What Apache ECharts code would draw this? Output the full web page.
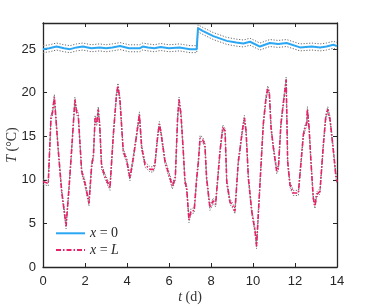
<!DOCTYPE html>
<html><head><meta charset="utf-8">
<script src="https://cdn.jsdelivr.net/npm/echarts@6/dist/echarts.min.js"></script>
<style>html,body{margin:0;padding:0;background:#fff}#c{width:374px;height:308px}</style>
</head><body><div id="c"></div>
<script>
// t (days) and temperature at x = L
const tL = [0,0.25,0.38,0.45,0.54,0.73,0.89,1.1,1.25,1.36,1.52,1.6,1.68,1.84,2.0,2.19,2.32,2.4,2.48,2.56,2.63,2.7,2.79,2.95,3.19,3.35,3.5,3.57,3.67,3.82,3.98,4.14,4.3,4.46,4.59,4.7,4.86,5.1,5.25,5.33,5.46,5.54,5.62,5.81,6.05,6.16,6.3,6.41,6.48,6.57,6.68,6.76,6.84,6.95,7.05,7.2,7.32,7.4,7.48,7.6,7.71,7.79,7.95,8.1,8.22,8.43,8.56,8.67,8.75,8.9,9.02,9.14,9.3,9.37,9.49,9.59,9.67,9.78,9.94,10.1,10.17,10.33,10.49,10.62,10.7,10.78,10.86,10.97,11.13,11.21,11.33,11.44,11.58,11.65,11.76,11.92,12.16,12.24,12.4,12.48,12.56,12.59,12.67,12.76,12.87,12.95,13.03,13.19,13.35,13.46,13.56,13.67,13.83,13.94,14.0];
const TL = [9.8,9.6,17.1,17.7,19.5,13.3,8.7,4.7,9.45,13.3,19.2,17.8,17.4,11.0,9.6,7.3,11.75,12.7,17.1,16.5,18.1,16.3,11.55,10.4,9.1,15.2,19.8,20.8,19.0,13.3,12.3,10.2,12.5,15.2,17.5,13.7,11.75,11.2,11.2,11.75,15.0,16.4,15.4,12.1,10.2,9.25,10.2,17.1,19.2,17.5,13.3,9.8,9.1,5.4,6.4,6.5,10.2,12.1,14.8,14.6,14.0,10.2,6.8,7.6,7.2,13.3,16.0,15.6,9.8,7.5,7.1,6.4,12.1,13.3,15.6,17.1,15.6,10.2,6.4,4.1,2.4,9.45,16.4,19.4,20.5,19.9,16.0,13.7,11.0,11.4,16.4,18.7,21.5,12.1,9.45,8.5,8.5,8.7,15.2,16.0,16.5,18.1,16.0,12.1,7.9,7.0,8.3,8.7,14.0,17.1,18.1,16.9,13.3,10.6,9.8];
// t (days) and temperature at x = 0
const t0 = [0,0.3,0.65,1.0,1.29,1.6,1.9,2.3,2.7,3.0,3.3,3.67,4.1,4.6,4.75,5.0,5.3,5.6,6.0,6.5,7.0,7.32,7.38,7.6,8.11,8.75,9.2,9.54,9.86,10.33,10.8,11.2,11.6,12.24,12.8,13.2,13.5,13.83,14.0];
const T0 = [25.0,25.1,25.3,25.1,25.0,25.2,25.3,25.1,25.2,25.1,25.2,25.35,25.1,25.1,25.3,25.2,25.1,25.25,25.1,25.2,25.0,25.0,27.4,27.1,26.5,25.95,25.75,25.65,25.85,25.3,25.7,25.6,25.7,25.2,25.3,25.2,25.3,25.5,25.35];
const xTicks = [0,2,4,6,8,10,12,14];
const yTicks = [0,5,10,15,20,25];
const band0 = 0.4, bandL = 0.3;

const pairs = (ts, vs, d) => ts.map((t, i) => [t, vs[i] + d]);
const serif = 'Liberation Serif';
const sans = 'Liberation Sans';
const grey = (name, ts, vs, d) => ({
  type: 'line', name: name, data: pairs(ts, vs, d), symbol: 'none', silent: true,
  xAxisIndex: 1, yAxisIndex: 1,
  lineStyle: { color: '#6a6a6a', width: 1, type: [1.2, 1.6] }, z: 1
});
const lineS = { show: true, onZero: false, lineStyle: { color: '#262626', width: 1.3 } };
const tickS = { show: true, inside: true, length: 4, lineStyle: { color: '#262626', width: 1 } };

const chart = echarts.init(document.getElementById('c'));
chart.setOption({
  animation: false,
  grid: { left: 43, right: 37, top: 23, bottom: 41 },
  legend: {
    left: 55, top: 225, orient: 'vertical', itemWidth: 29, itemHeight: 10, itemGap: 0, padding: 0,
    data: ['x0', 'xL'],
    itemStyle: { opacity: 0 },
    formatter: n => n === 'x0' ? '{i|x} = 0' : '{i|x} = {i|L}',
    textStyle: { fontFamily: serif, fontSize: 14, color: '#262626', lineHeight: 16.6,
      rich: { i: { fontFamily: serif, fontStyle: 'italic', fontSize: 14, color: '#262626', lineHeight: 16.6 } } }
  },
  graphic: [{
    type: 'text', x: 5, y: 145, rotation: Math.PI / 2,
    style: { text: '{i|T} (°C)', align: 'center', verticalAlign: 'top', fill: '#333',
      font: '14px "Liberation Serif"',
      rich: { i: { fontFamily: serif, fontStyle: 'italic', fontSize: 14, fill: '#333', color: '#333' } } }
  }, {
    type: 'text', x: 190, y: 290,
    style: { text: '{i|t} (d)', align: 'center', verticalAlign: 'top', fill: '#333',
      font: '14px "Liberation Serif"',
      rich: { i: { fontFamily: serif, fontStyle: 'italic', fontSize: 14, fill: '#333', color: '#333' } } }
  }],
  xAxis: [
    { type: 'value', min: 0, max: 14, interval: 2, position: 'bottom',
      axisLine: lineS, axisTick: tickS, splitLine: { show: false },
      axisLabel: { fontFamily: sans, fontSize: 13, color: '#262626', margin: 8,
        formatter: v => xTicks.includes(v) ? String(v) : '' } },
    { type: 'value', min: 0, max: 14, interval: 2, position: 'top',
      axisLine: lineS, axisTick: tickS, splitLine: { show: false }, axisLabel: { show: false } }
  ],
  yAxis: [
    { type: 'value', min: 0, max: 28, interval: 5, position: 'left',
      axisLine: lineS, axisTick: tickS, splitLine: { show: false },
      axisLabel: { fontFamily: sans, fontSize: 13, color: '#262626', margin: 7,
        formatter: v => yTicks.includes(v) ? String(v) : '' } },
    { type: 'value', min: 0, max: 28, interval: 5, position: 'right',
      axisLine: lineS, axisTick: tickS, splitLine: { show: false }, axisLabel: { show: false } }
  ],
  series: [
    grey('g1', t0, T0, band0), grey('g2', t0, T0, -band0),
    grey('g3', tL, TL, bandL), grey('g4', tL, TL, -bandL),
    { type: 'line', name: 'x0', data: pairs(t0, T0, 0), symbol: 'none', z: 3,
      itemStyle: { color: '#2aa6f2' },
      lineStyle: { color: '#2aa6f2', width: 2 } },
    { type: 'line', name: 'xL', data: pairs(tL, TL, 0), symbol: 'none', z: 3,
      itemStyle: { color: '#e8226a' },
      lineStyle: { color: '#e8226a', width: 1.6, type: [5, 2, 1.5, 2] } }
  ]
});
</script></body></html>
